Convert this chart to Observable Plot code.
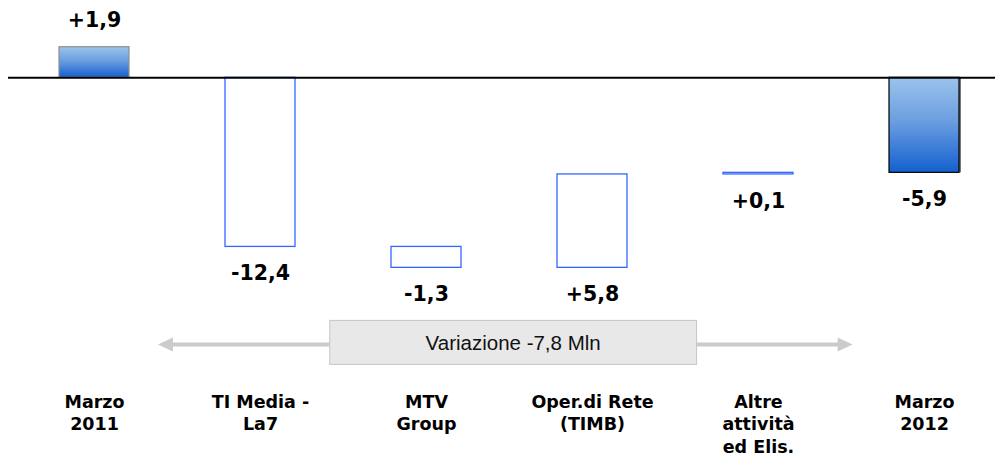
<!DOCTYPE html>
<html><head><meta charset="utf-8">
<script src="https://cdn.jsdelivr.net/npm/d3@7"></script>
<script src="https://cdn.jsdelivr.net/npm/@observablehq/plot@0.6"></script>
<style>body{margin:0;background:#fff} svg{display:block}</style>
</head><body><div id="chart"></div>
<script>
const categories = ["Marzo\n2011", "TI Media -\nLa7", "MTV\nGroup", "Oper.di Rete\n(TIMB)", "Altre\nattività\ned Elis.", "Marzo\n2012"];
const values = [1.9, -12.4, -1.3, 5.8, 0.1, -5.9];
const valueLabels = ["+1,9", "-12,4", "-1,3", "+5,8", "+0,1", "-5,9"];
const kinds = ["total", "delta", "delta", "delta", "delta", "total"];
const variationText = "Variazione -7,8 Mln";

let running = 0;
const rows = categories.map((c, i) => {
  let y1, y2;
  if (kinds[i] === "total") { y1 = 0; y2 = values[i]; }
  else { y1 = running; y2 = running + values[i]; }
  running = y2;
  let lo = Math.min(y1, y2), hi = Math.max(y1, y2);
  // change bars below the axis are drawn from the axis down (clipped at zero)
  if (kinds[i] === "delta" && lo < 0) hi = Math.min(hi, 0);
  return {category: c, lo, hi, label: valueLabels[i], kind: kinds[i], above: i === 0};
});

function variationMark(index, scales, vals, dims) {
  const x = scales.x, bw = x.bandwidth(), step = x.step();
  const c = k => x(categories[k]) + bw / 2;
  const cy = dims.height * 0.746;
  const g = d3.create("svg:g");
  const aL = c(0) + 0.385 * step, aR = c(5) - 0.43 * step;
  const head = 15, hw = 7;
  g.append("line").attr("x1", aL + head - 1).attr("x2", aR - head + 1)
    .attr("y1", cy + 2).attr("y2", cy + 2).attr("stroke", "#cbcbcb").attr("stroke-width", 4);
  g.append("path").attr("d", `M${aL},${cy + 2}L${aL + head},${cy + 2 - hw}L${aL + head},${cy + 2 + hw}Z`).attr("fill", "#cbcbcb");
  g.append("path").attr("d", `M${aR},${cy + 2}L${aR - head},${cy + 2 - hw}L${aR - head},${cy + 2 + hw}Z`).attr("fill", "#cbcbcb");
  const bL = c(1) + 0.42 * step, bR = c(4) - 0.37 * step;
  g.append("rect").attr("x", bL).attr("y", cy - 22).attr("width", bR - bL).attr("height", 44)
    .attr("fill", "#e8e8e8").attr("stroke", "#c6c6c6").attr("stroke-width", 1);
  g.append("text").attr("x", (bL + bR) / 2).attr("y", cy).attr("dy", "0.35em")
    .attr("text-anchor", "middle").attr("font-family", "Liberation Sans, Arial, sans-serif")
    .attr("font-size", 20.5).attr("fill", "#111").text(variationText);
  return g.node();
}

const totals = rows.filter(d => d.kind === "total");
const deltas = rows.filter(d => d.kind === "delta");

const plot = Plot.plot({
  width: 995, height: 459, margin: 0,
  style: {fontFamily: "DejaVu Sans, sans-serif", background: "#fff"},
  x: {type: "band", domain: categories, paddingInner: 0.579, paddingOuter: 0.279, align: 0.624, axis: null},
  y: {domain: [-23.7, 4.8], axis: null},
  marks: [
    Plot.barY([totals[1]], {x: "category", y1: "lo", y2: "hi", fill: "#777", dx: 2}),
    Plot.barY([totals[0]], {x: "category", y1: "lo", y2: "hi", fill: "url(#barGrad)", stroke: "#8f8f8f", strokeWidth: 1.2}),
    Plot.barY([totals[1]], {x: "category", y1: "lo", y2: "hi", fill: "url(#barGrad)", stroke: "#000", strokeWidth: 1.2}),
    Plot.barY(deltas, {x: "category", y1: "lo", y2: "hi", fill: "white", stroke: "#3366ff", strokeWidth: 1.3}),
    Plot.ruleY([0], {stroke: "#000", strokeWidth: 2, insetLeft: 8}),
    Plot.text(rows.filter(d => d.above), {x: "category", y: "hi", text: "label", dy: -27, fontSize: 20.5, fontWeight: "bold", fill: "#000"}),
    Plot.text(rows.filter(d => !d.above), {x: "category", y: "lo", text: "label", dy: 27, fontSize: 20.5, fontWeight: "bold", fill: "#000"}),
    Plot.text(rows, {x: "category", text: "category", frameAnchor: "bottom", dy: -68, lineAnchor: "top", lineHeight: 1.3, fontSize: 17.5, fontWeight: "bold", fill: "#000"}),
    variationMark
  ]
});

const defs = d3.select(plot).insert("defs", ":first-child");
const grad = defs.append("linearGradient").attr("id", "barGrad").attr("x1", 0).attr("y1", 0).attr("x2", 0).attr("y2", 1);
grad.append("stop").attr("offset", "0%").attr("stop-color", "#9ac3ec");
grad.append("stop").attr("offset", "45%").attr("stop-color", "#6d9fe0");
grad.append("stop").attr("offset", "100%").attr("stop-color", "#1360cf");

document.getElementById("chart").appendChild(plot);
</script>
</body></html>
